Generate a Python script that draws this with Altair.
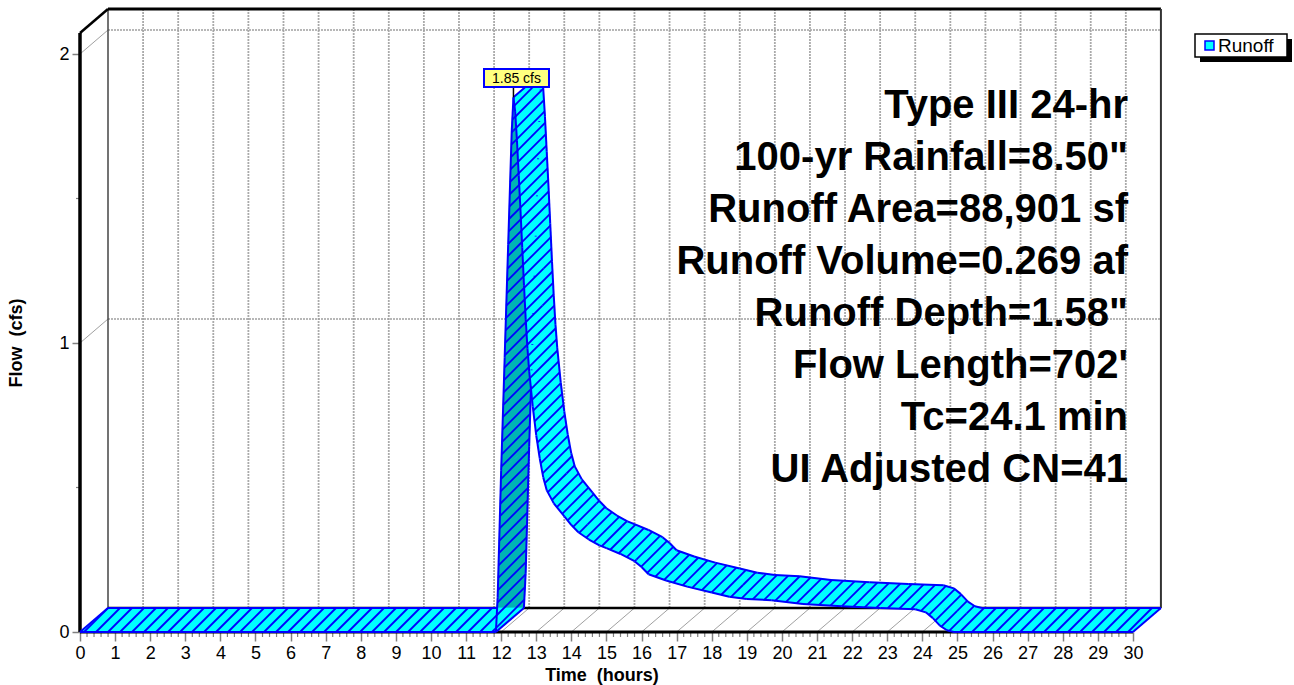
import math
import altair as alt
import pandas as pd

# ---------------- data ----------------
time_h = [0.0, 11.85, 11.90, 12.00, 12.10, 12.20, 12.30, 12.35, 12.40, 12.45,
          12.50, 12.55, 12.60, 12.65, 12.70, 12.75, 12.80, 12.90, 13.00, 13.10,
          13.20, 13.30, 13.50, 13.80, 14.00, 14.20, 14.50, 14.80, 15.00, 15.40,
          15.80, 16.00, 16.20, 16.70, 17.30, 18.00, 18.50, 19.00, 19.70, 20.60,
          21.70, 22.80, 23.80, 24.10, 24.30, 24.50, 24.70, 24.90, 30.00]
flow_cfs = [0.0, 0.0, 0.12, 0.56, 0.95, 1.34, 1.73, 1.85, 1.80, 1.70,
            1.58, 1.46, 1.33, 1.20, 1.08, 0.98, 0.90, 0.78, 0.68, 0.60,
            0.535, 0.49, 0.445, 0.40, 0.37, 0.345, 0.32, 0.30, 0.29, 0.27,
            0.245, 0.225, 0.20, 0.178, 0.157, 0.137, 0.122, 0.114, 0.110, 0.097,
            0.089, 0.083, 0.079, 0.068, 0.048, 0.022, 0.006, 0.0, 0.0]
x_ticks = list(range(0, 31))
y_ticks = [0, 1, 2]
y_minor = [0.5, 1.5]
peak_time = 12.35
peak_flow = 1.85
peak_label = "1.85 cfs"
annotations = ["Type III 24-hr", '100-yr Rainfall=8.50"', "Runoff Area=88,901 sf",
               "Runoff Volume=0.269 af", 'Runoff Depth=1.58"', "Flow Length=702'",
               "Tc=24.1 min", "UI Adjusted CN=41"]
legend_label = "Runoff"
title_text = "Hydrograph"
x_title = "Time\u00a0\u00a0(hours)"
y_title = "Flow\u00a0\u00a0(cfs)"

# ---------------- geometry ----------------
W, H = 1081, 623
XMAX = 30.8
SX = W / XMAX
SY = 289.0
QMAX = H / SY
DPX, DPY = 28.0, 24.0
DX, DY = DPX / SX, DPY / SY
FONT = "Liberation Sans"
CYAN, TEAL, BLUE = "#00FFFF", "#00B4B4", "#0000FF"

xs = alt.Scale(domain=[0, XMAX], nice=False, zero=False)
ys = alt.Scale(domain=[0, QMAX], nice=False, zero=False)
AX = alt.Axis(values=x_ticks, domain=False, grid=False, tickSize=9, tickColor="#808080",
              tickWidth=1.5, labelFontSize=18, labelFont=FONT, labelColor="black",
              labelPadding=3, labelFlush=False, title=None)
AY = alt.Axis(values=y_ticks, domain=False, grid=False, tickSize=8, tickColor="#808080",
              tickWidth=1.5, labelFontSize=18, labelFont=FONT, labelColor="black",
              labelPadding=3, title=None)


def X(f):
    return alt.X(f, scale=xs, axis=AX)


def Y(f):
    return alt.Y(f, scale=ys, axis=AY)


front = [(t * SX, q * SY) for t, q in zip(time_h, flow_cfs)]
quads = []
for i in range(len(front) - 1):
    A, B = front[i], front[i + 1]
    if abs(B[0] - A[0]) + abs(B[1] - A[1]) < 1e-9:
        continue
    C = (B[0] + DPX, B[1] + DPY)
    D = (A[0] + DPX, A[1] + DPY)
    vx, vy = B[0] - A[0], B[1] - A[1]
    under = vx * DPY - vy * DPX < 0
    quads.append({"pts": [A, B, C, D], "under": under})


def area2(pts):
    s = 0.0
    for k in range(len(pts)):
        x1, y1 = pts[k]
        x2, y2 = pts[(k + 1) % len(pts)]
        s += x1 * y2 - x2 * y1
    return s


for qd in quads:
    qd["a2"] = area2(qd["pts"])
    g = [p[0] - p[1] for p in qd["pts"]]
    qd["g"] = (min(g), max(g))


def clip(P0, P1, qd, eps):
    a2 = qd["a2"]
    if abs(a2) < 1e-6:
        return None
    pts = qd["pts"]
    sg = 1 if a2 > 0 else -1
    lo, hi = 0.0, 1.0
    dx, dy = P1[0] - P0[0], P1[1] - P0[1]
    for k in range(4):
        V, Wv = pts[k], pts[(k + 1) % 4]
        ex, ey = Wv[0] - V[0], Wv[1] - V[1]
        L = math.hypot(ex, ey)
        if L < 1e-9:
            continue
        a = sg * (ex * (P0[1] - V[1]) - ey * (P0[0] - V[0])) - eps * L
        b = sg * (ex * dy - ey * dx)
        if abs(b) < 1e-12:
            if a <= 0:
                return None
        elif b > 0:
            lo = max(lo, -a / b)
        else:
            hi = min(hi, -a / b)
        if lo >= hi:
            return None
    return (lo, hi)


def subtract(ivs, cut):
    lo, hi = cut
    out = []
    for a, b in ivs:
        if hi <= a or lo >= b:
            out.append((a, b))
            continue
        if lo > a:
            out.append((a, lo))
        if hi < b:
            out.append((hi, b))
    return out


def lerp(P0, P1, u):
    return (P0[0] + (P1[0] - P0[0]) * u, P0[1] + (P1[1] - P0[1]) * u)


def visible(P0, P1, start, ivs):
    for j in range(start, len(quads)):
        cj = clip(P0, P1, quads[j], 0.3)
        if cj:
            ivs = subtract(ivs, cj)
        if not ivs:
            break
    return ivs


# hatch lines (45 degree pattern)
HATCH = 12.0
gmin = min(q["g"][0] for q in quads)
gmax = max(q["g"][1] for q in quads)
hatch = []
for k in range(math.floor(gmin / HATCH), math.ceil(gmax / HATCH) + 1):
    c = k * HATCH + 4.0
    P0, P1 = (c - 2000.0, -2000.0), (c + 2000.0, 2000.0)
    for i, qd in enumerate(quads):
        if not (qd["g"][0] <= c <= qd["g"][1]):
            continue
        iv = clip(P0, P1, qd, 0.0)
        if iv is None:
            continue
        for a, b in visible(P0, P1, i + 1, [iv]):
            if (b - a) * 5657 > 0.5:
                hatch.append((lerp(P0, P1, a), lerp(P0, P1, b)))

# outlines
outline = []
for i, qd in enumerate(quads):
    A, B, C, D = qd["pts"]
    for P0, P1 in ((A, B), (D, C)):
        for a, b in visible(P0, P1, i + 1, [(0.0, 1.0)]):
            if b - a > 1e-4:
                outline.append((lerp(P0, P1, a), lerp(P0, P1, b)))
edge_idx = [0]
for i in range(1, len(quads)):
    if quads[i]["under"] != quads[i - 1]["under"]:
        edge_idx.append(i)
for i in edge_idx:
    A = quads[i]["pts"][0]
    P0, P1 = A, (A[0] + DPX, A[1] + DPY)
    for a, b in visible(P0, P1, i, [(0.0, 1.0)]):
        if b - a > 1e-4:
            outline.append((lerp(P0, P1, a), lerp(P0, P1, b)))
last = quads[-1]["pts"][1]
outline.append((last, (last[0] + DPX, last[1] + DPY)))


def seg_df(segs):
    return pd.DataFrame([{"x": a[0] / SX, "y": a[1] / SY, "x2": b[0] / SX, "y2": b[1] / SY}
                         for a, b in segs])


def poly_df(under):
    rows = []
    for n, qd in enumerate(quads):
        if qd["under"] != under:
            continue
        pts = qd["pts"] + [qd["pts"][0]]
        for k, p in enumerate(pts):
            rows.append({"id": f"q{n:04d}", "k": k, "x": p[0] / SX, "y": p[1] / SY})
    return pd.DataFrame(rows)


def rules(df, color, width, dash=None):
    kw = dict(color=color, strokeWidth=width, strokeCap="butt")
    if dash:
        kw["strokeDash"] = dash
    return alt.Chart(df).mark_rule(**kw).encode(
        x=X("x:Q"), y=Y("y:Q"), x2="x2:Q", y2="y2:Q")


def seg(x, y, x2, y2):
    return pd.DataFrame({"x": [x], "y": [y], "x2": [x2], "y2": [y2]})


# ---------------- frame ----------------
bx = [t + DX for t in x_ticks[1:-1]]
back_v = pd.DataFrame({"x": bx, "y": DY, "x2": bx, "y2": QMAX})
by = [q + DY for q in y_ticks[1:]]
back_h = pd.DataFrame({"x": DX, "y": by, "x2": 30 + DX, "y2": by})
wall_d = pd.DataFrame({"x": 0.0, "y": y_ticks[1:], "x2": DX, "y2": by})
floor_d = pd.DataFrame({"x": x_ticks, "y": 0.0, "x2": [t + DX for t in x_ticks], "y2": DY})

minor_x = [round(i * 0.2, 1) for i in range(0, 151) if i % 5 != 0]
mx = alt.Chart(pd.DataFrame({"x": minor_x})).mark_rule(color="#808080", strokeWidth=1.2).encode(
    x=X("x:Q"), y=alt.value(H), y2=alt.value(H + 5))
my = alt.Chart(pd.DataFrame({"y": y_minor})).mark_rule(color="#808080", strokeWidth=1.2).encode(
    y=Y("y:Q"), x=alt.value(-4), x2=alt.value(0))

frame = [
    rules(back_v, "#AAAAAA", 1.8, [2, 1]),
    rules(back_h, "#A0A0A0", 1.5, [2, 1]),
    rules(wall_d, "#A0A0A0", 1),
    rules(floor_d, "#A0A0A0", 1),
    mx, my,
    rules(seg(DX, DY, DX, QMAX), "#444444", 1.5),
    rules(seg(0.0, 0.0, 30.0, 0.0), "black", 3),
    rules(seg(DX, DY, 30 + DX, DY), "black", 2.5),
    rules(seg(0.0, 0.0, 0.0, QMAX - DY), "black", 3.5),
    rules(seg(0.0, QMAX - DY, DX, QMAX), "black", 2.5),
    rules(seg(DX, QMAX, 30 + DX, QMAX), "black", 3),
    rules(seg(30 + DX, DY, 30 + DX, QMAX), "#333333", 2),
]


# ---------------- ribbon ----------------
def fill_layer(under, color):
    return alt.Chart(poly_df(under)).mark_line(fill=color, stroke=color, strokeWidth=0.8,
                                               interpolate="linear").encode(
        x=X("x:Q"), y=Y("y:Q"), detail="id:N", order="k:Q")


ribbon = [
    fill_layer(True, TEAL),
    fill_layer(False, CYAN),
    rules(seg_df(hatch), BLUE, 1.8),
    rules(seg_df(outline), BLUE, 2),
]

# ---------------- labels ----------------
def one():
    return pd.DataFrame({"a": [0]})


box = alt.Chart(one()).mark_rect(fill="#FFFF80", stroke=BLUE, strokeWidth=2).encode(
    x=alt.value(404), x2=alt.value(469), y=alt.value(60), y2=alt.value(78))
leader = alt.Chart(pd.DataFrame({"t": [peak_time], "q": [peak_flow]})).mark_rule(
    color="black", strokeWidth=1.5).encode(x=X("t:Q"), y=Y("q:Q"), y2=alt.value(78))


def label(text, x, y, size, bold=False, color="black", align="center", baseline="middle", angle=None):
    kw = dict(font=FONT, fontSize=size, color=color, align=align, baseline=baseline, text=text)
    if bold:
        kw["fontWeight"] = "bold"
    if angle is not None:
        kw["angle"] = angle
    return alt.Chart(one()).mark_text(**kw).encode(x=alt.value(x), y=alt.value(y))


texts = [label(peak_label, 436.5, 69.5, 14)]
for i, s in enumerate(annotations):
    texts.append(label(s, 1048, 97 + 52 * i, 40, bold=True, align="right"))
texts += [
    label(title_text, 496, -14.5, 23, bold=True, color=BLUE, baseline="alphabetic"),
    label(x_title, 522, 667, 18, bold=True),
    label(y_title, -63, 334, 18, bold=True, angle=270),
]

leg = [
    alt.Chart(one()).mark_rect(fill="black").encode(
        x=alt.value(1120), x2=alt.value(1212), y=alt.value(30), y2=alt.value(53)),
    alt.Chart(one()).mark_rect(fill="white", stroke="black", strokeWidth=1.5).encode(
        x=alt.value(1115), x2=alt.value(1207), y=alt.value(25), y2=alt.value(48)),
    alt.Chart(one()).mark_rect(fill=CYAN, stroke=BLUE, strokeWidth=1.5).encode(
        x=alt.value(1125), x2=alt.value(1134), y=alt.value(32), y2=alt.value(41)),
    label(legend_label, 1138, 37, 19, align="left"),
]

chart = alt.layer(*frame, *ribbon, leader, box, *texts, *leg).properties(
    width=W, height=H,
    padding={"left": 80, "top": 9, "right": 1294 - 80 - W, "bottom": 685 - 9 - H},
    autosize=alt.AutoSizeParams(type="none"),
    background="white",
).configure_view(stroke=None)

chart.save("out.html", embed_options={"renderer": "svg", "actions": False})
